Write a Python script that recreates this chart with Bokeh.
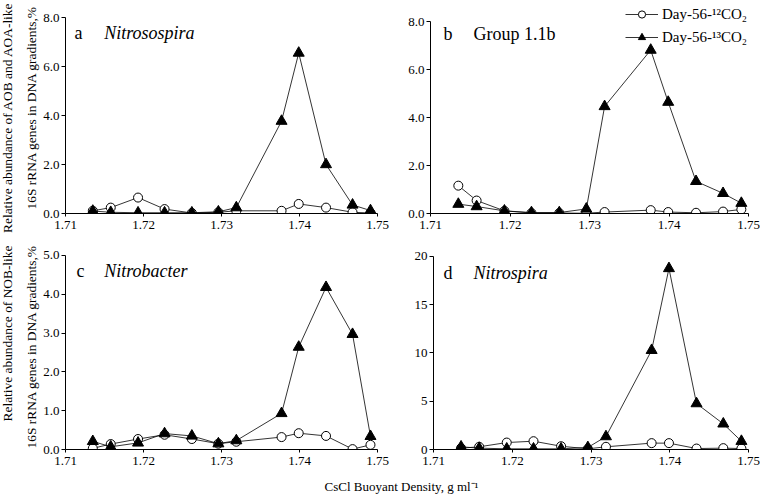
import math
from bokeh.plotting import figure
from bokeh.layouts import column, row
from bokeh.models import FixedTicker, NumeralTickFormatter, Legend, LegendItem, Range1d
from bokeh.core.properties import value
from bokeh.embed import file_html
from bokeh.resources import INLINE

# ---------------- data ----------------
density = [1.7135, 1.7158, 1.7193, 1.7227, 1.7262, 1.7296, 1.7319, 1.7377, 1.7399, 1.7434, 1.7468, 1.7491]

a_12 = [0.11, 0.24, 0.65, 0.18, 0.02, 0.05, 0.11, 0.11, 0.39, 0.24, 0.05, 0.02]
a_13 = [0.10, 0.05, 0.03, 0.03, 0.03, 0.07, 0.24, 3.77, 6.55, 2.00, 0.35, 0.12]
b_12 = [1.16, 0.54, 0.11, 0.02, 0.02, 0.01, 0.06, 0.14, 0.06, 0.03, 0.08, 0.17]
b_13 = [0.39, 0.29, 0.11, 0.04, 0.04, 0.19, 4.46, 6.81, 4.64, 1.34, 0.84, 0.43]
c_12 = [0.03, 0.14, 0.27, 0.38, 0.27, 0.15, 0.20, 0.32, 0.42, 0.35, 0.01, 0.12]
c_13 = [0.21, 0.07, 0.17, 0.41, 0.35, 0.15, 0.23, 0.93, 2.64, 4.18, 2.97, 0.34]
d_12 = [0.14, 0.28, 0.72, 0.86, 0.34, 0.07, 0.28, 0.66, 0.66, 0.10, 0.14, 0.10]
d_13 = [0.28, 0.14, 0.07, 0.07, 0.07, 0.21, 1.34, 10.28, 18.76, 4.76, 2.66, 0.86]

x_ticks = [1.71, 1.72, 1.73, 1.74, 1.75]
ticks_ab = [0, 2, 4, 6, 8]
ticks_c = [0, 1, 2, 3, 4, 5]
ticks_d = [0, 5, 10, 15, 20]

label_12 = "Day-56-\u00b9\u00b2CO\u2082"
label_13 = "Day-56-\u00b9\u00b3CO\u2082"
x_title = "CsCl Buoyant Density, g ml\u207b\u00b9"
ylabel_top = ["Relative abundance of AOB and AOA-like", "16S rRNA genes in DNA gradients,%"]
ylabel_bot = ["Relative abundance of NOB-like", "16S rRNA genes in DNA gradients,%"]

FONT = "Liberation Serif"


def make_panel(width, height, bl, br, bt, bb, y_end, yticks, yfmt,
               s12, s13, letter, name, italic, lab_pos):
    p = figure(width=width, height=height, output_backend="svg", toolbar_location=None,
               x_range=Range1d(1.71, 1.75), y_range=Range1d(0, y_end),
               min_border_left=bl, min_border_right=br, min_border_top=bt,
               min_border_bottom=bb, title=None)
    p.outline_line_color = None
    p.background_fill_color = "white"
    p.border_fill_color = "white"
    p.xgrid.visible = False
    p.ygrid.visible = False

    xa = p.xaxis[0]
    xa.ticker = FixedTicker(ticks=x_ticks)
    xa.formatter = NumeralTickFormatter(format="0.00")
    xa.major_tick_in = 0
    xa.major_tick_out = 3
    xa.minor_tick_line_color = None
    xa.major_label_standoff = 4
    xa.major_label_text_font = FONT
    xa.major_label_text_font_size = "13px"
    xa.major_label_text_color = "black"
    xa.axis_line_color = "black"
    xa.major_tick_line_color = "black"

    ya = p.yaxis[0]
    ya.ticker = FixedTicker(ticks=yticks)
    ya.formatter = NumeralTickFormatter(format=yfmt)
    ya.bounds = (0, yticks[-1])
    ya.major_tick_in = 0
    ya.major_tick_out = 4
    ya.minor_tick_line_color = None
    ya.major_label_standoff = 2
    ya.major_label_text_font = FONT
    ya.major_label_text_font_size = "13px"
    ya.major_label_text_color = "black"
    ya.axis_line_color = "black"
    ya.major_tick_line_color = "black"

    l12 = p.line(density, s12, line_color="black", line_width=0.8)
    c12 = p.scatter(density, s12, marker="circle", size=9, fill_color="white",
                    line_color="black", line_width=1)
    l13 = p.line(density, s13, line_color="black", line_width=0.8)
    t13 = p.scatter(density, s13, marker="triangle", size=11, fill_color="black",
                    line_color="black", line_width=1)

    # panel label, placed by pixel offsets inside the frame
    fw = width - bl - br
    fh = height - bt - bb
    def dx(px):
        return 1.71 + px / fw * 0.04
    def dy(px_from_top):
        return y_end - px_from_top / fh * y_end
    lx, nx, ly = lab_pos
    p.text(x=[dx(lx)], y=[dy(ly)], text=[letter], text_font=value(FONT),
           text_font_size=value("18px"), text_baseline="middle", text_color="black")
    p.text(x=[dx(nx)], y=[dy(ly)], text=[name], text_font=value(FONT),
           text_font_size=value("18px"), text_baseline="middle", text_color="black",
           text_font_style="italic" if italic else "normal")
    return p, (l12, c12, l13, t13)


TOP_H = 236
BOT_H = 236
pa, _ = make_panel(358, TOP_H, 23, 21, 0, 23, 8.694, ticks_ab, "0.0",
                   a_12, a_13, "a", "Nitrosospira", True, (9, 39, 32))
pb, rb = make_panel(362, TOP_H, 32, 12, 0, 23, 8.875, ticks_ab, "0.0",
                    b_12, b_13, "b", "Group 1.1b", False, (13, 43, 33))
pc, _ = make_panel(358, BOT_H, 23, 21, 6, 23, 5.335, ticks_c, "0.0",
                   c_12, c_13, "c", "Nitrobacter", True, (11, 39, 28))
pd, _ = make_panel(362, BOT_H, 35, 12, 6, 23, 21.45, ticks_d, "0",
                   d_12, d_13, "d", "Nitrospira", True, (10, 40, 30))

legend = Legend(items=[LegendItem(label=label_12, renderers=[rb[0], rb[1]]),
                       LegendItem(label=label_13, renderers=[rb[2], rb[3]])],
                location=(195, 167), orientation="vertical")
legend.glyph_width = 33
legend.glyph_height = 18
legend.label_height = 18
legend.spacing = 5
legend.padding = 0
legend.margin = 0
legend.label_standoff = 4
legend.border_line_color = None
legend.background_fill_alpha = 0
legend.label_text_font = FONT
legend.label_text_font_size = "15px"
legend.label_text_color = "black"
pb.add_layout(legend)

# left strip carrying the rotated y-axis titles
STRIP_W = 40
STRIP_H = TOP_H + BOT_H
ps = figure(width=STRIP_W, height=STRIP_H, output_backend="svg", toolbar_location=None,
            x_range=Range1d(0, STRIP_W), y_range=Range1d(0, STRIP_H), min_border=0, title=None)
ps.outline_line_color = None
ps.axis.visible = False
ps.xgrid.visible = False
ps.ygrid.visible = False
ps.text(x=[7, 31, 7, 31],
        y=[STRIP_H - 117, STRIP_H - 107, STRIP_H - 333, STRIP_H - 346],
        text=ylabel_top + ylabel_bot, angle=math.pi / 2,
        text_font=value(FONT), text_font_size=value("13.4px"),
        text_align="center", text_baseline="middle", text_color="black")

# x-axis title strip
TITLE_H = 25
pt = figure(width=760, height=TITLE_H, output_backend="svg", toolbar_location=None,
            x_range=Range1d(0, 760), y_range=Range1d(0, TITLE_H), min_border=0, title=None)
pt.outline_line_color = None
pt.axis.visible = False
pt.xgrid.visible = False
pt.ygrid.visible = False
pt.text(x=[401], y=[11], text=[x_title], text_font=value(FONT), text_font_size=value("13px"),
        text_align="center", text_baseline="middle", text_color="black")

layout = column(row(ps, column(row(pa, pb), row(pc, pd))), pt)

open("out.html", "w").write(file_html(layout, INLINE))
